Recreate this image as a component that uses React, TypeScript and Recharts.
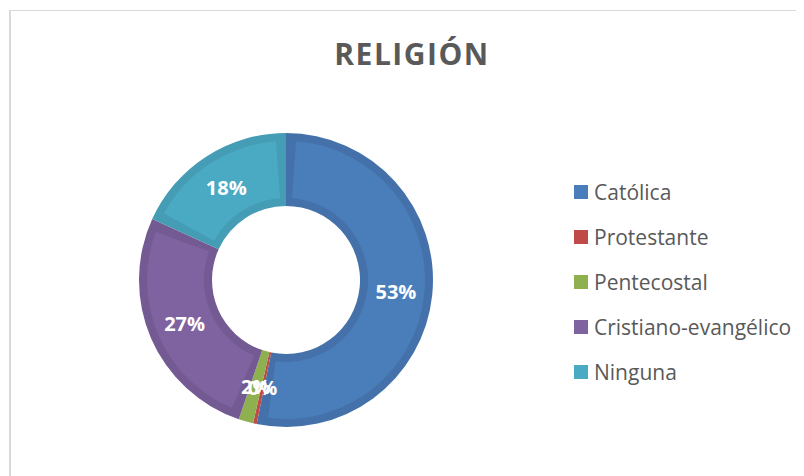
import { PieChart, Pie, Cell, Legend, Sector } from 'recharts';

const categories = ['Católica', 'Protestante', 'Pentecostal', 'Cristiano-evangélico', 'Ninguna'];
const shares = [53.2, 0.4, 1.6, 26.6, 18.2];
const fills = ['#4a7ebb', '#be4b48', '#8fb04f', '#7f63a0', '#4aaac4'];
const bands = ['#4571aa', '#a94340', '#86a54a', '#735a92', '#449db5'];

const data = categories.map((name, i) => ({ name, value: shares[i] }));

const FONT = '"Open Sans", sans-serif';
const GREY = '#595959';
const BAND = 8;

const RADIAN = Math.PI / 180;

// excel-ish bevel: darker rim, lighter inner part
const SliceShape = (props: any) => {
  const { cx, cy, innerRadius, outerRadius, startAngle, endAngle, index } = props;
  const span = Math.abs(endAngle - startAngle);
  const mid = (innerRadius + outerRadius) / 2;
  const d = (BAND / mid) / RADIAN;
  const sign = endAngle > startAngle ? 1 : -1;
  const idx = index ?? 0;
  if (span < 2 * d + 2) {
    return (
      <Sector cx={cx} cy={cy} innerRadius={innerRadius} outerRadius={outerRadius}
        startAngle={startAngle} endAngle={endAngle} fill={fills[idx]} />
    );
  }
  return (
    <g>
      <Sector cx={cx} cy={cy} innerRadius={innerRadius} outerRadius={outerRadius}
        startAngle={startAngle} endAngle={endAngle} fill={bands[idx]} />
      <Sector cx={cx} cy={cy} innerRadius={innerRadius + BAND} outerRadius={outerRadius - BAND}
        startAngle={startAngle + sign * d} endAngle={endAngle - sign * d} fill={fills[idx]} />
    </g>
  );
};

const renderLabel = (p: any) => {
  const r = (p.innerRadius + p.outerRadius) / 2;
  const x = p.cx + r * Math.cos(-p.midAngle * RADIAN);
  const y = p.cy + r * Math.sin(-p.midAngle * RADIAN);
  return (
    <text x={x} y={y} fill="#ffffff" textAnchor="middle" dominantBaseline="central"
      style={{ fontFamily: FONT, fontSize: 20, fontWeight: 700 }}>
      {Math.round(p.percent * 100)}%
    </text>
  );
};

const renderLegend = () => (
  <div>
    {categories.map((c, i) => (
      <div key={c} style={{ height: 45, display: 'flex', alignItems: 'center' }}>
        <span style={{ width: 14, height: 14, background: fills[i], marginRight: 6, display: 'inline-block' }} />
        <span style={{ fontFamily: FONT, fontSize: 21, color: GREY }}>{c}</span>
      </div>
    ))}
  </div>
);

export default function App() {
  return (
    <div style={{ position: 'relative', width: 796, height: 468, overflow: 'hidden', background: '#fff' }}>
      <div style={{
        position: 'absolute', left: 1, top: 2, width: 900, height: 600,
        borderLeft: '2px solid #d9d9d9', borderTop: '1px solid #d9d9d9',
      }} />
      <div style={{
        position: 'absolute', left: 0, width: 808, top: 31, textAlign: 'center',
        fontFamily: FONT, fontWeight: 700, fontSize: 30, lineHeight: '29px', color: GREY,
        letterSpacing: 1.5,
      }}>
        RELIGIÓN
      </div>
      <div style={{ position: 'absolute', left: 0, top: 0 }}>
        <PieChart width={796} height={468}>
          <Pie
            data={data}
            dataKey="value"
            nameKey="name"
            cx={273}
            cy={267}
            innerRadius={74}
            outerRadius={147}
            startAngle={90}
            endAngle={-270}
            stroke="none"
            label={renderLabel}
            labelLine={false}
            shape={SliceShape}
            isAnimationActive={false}
          >
            {data.map((d, i) => (
              <Cell key={d.name} fill={fills[i]} />
            ))}
          </Pie>
          <Legend
            layout="vertical"
            content={renderLegend}
            wrapperStyle={{ left: 566, top: 161, width: 230, bottom: 'auto', right: 'auto' }}
          />
        </PieChart>
      </div>
    </div>
  );
}
